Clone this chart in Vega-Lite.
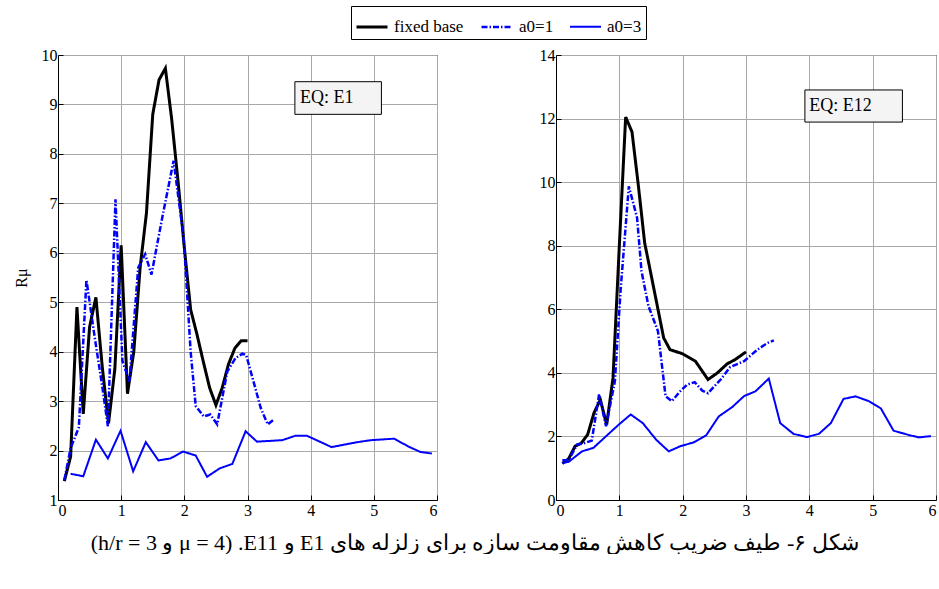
{
  "$schema": "https://vega.github.io/schema/vega-lite/v6.json",
  "background": "white",
  "padding": {"left": 12, "top": 5, "right": 0, "bottom": 0},
  "config": {
    "font": "Liberation Serif",
    "view": {"stroke": "black", "strokeWidth": 1},
    "axis": {
      "labelFont": "Liberation Serif", "labelFontSize": 16, "labelColor": "black",
      "titleFont": "Liberation Serif", "titleFontSize": 16, "titleColor": "black", "titleFontWeight": "normal",
      "domainColor": "black", "tickColor": "black", "tickSize": -5,
      "gridColor": "#a8a8a8", "gridWidth": 1, "gridOpacity": 1, "format": "d"
    },
    "axisX": {"labelPadding": 7},
    "axisY": {"labelPadding": 6},
    "legend": {
      "labelFont": "Liberation Serif", "labelFontSize": 17, "labelColor": "black",
      "strokeColor": "black", "padding": 4, "direction": "horizontal",
      "symbolType": "stroke", "symbolSize": 961, "columnPadding": 12, "labelOffset": 5
    },
    "title": {"font": "Liberation Serif", "fontSize": 22, "fontWeight": "normal", "color": "black"}
  },
  "title": {
    "text": "(h/r = 3 و μ = 4) ‫شکل ۶- طیف ضریب کاهش مقاومت سازه برای زلزله های E1 و E11.‬",
    "orient": "bottom", "anchor": "middle", "offset": 14, "font": "Liberation Serif"
  },
  "datasets": {
    "left": [
      {"s": "fixed base", "T": 0.1, "R": 1.38}, {"s": "fixed base", "T": 0.2, "R": 1.88},
      {"s": "fixed base", "T": 0.3, "R": 4.9}, {"s": "fixed base", "T": 0.4, "R": 2.74},
      {"s": "fixed base", "T": 0.5, "R": 4.5}, {"s": "fixed base", "T": 0.6, "R": 5.1},
      {"s": "fixed base", "T": 0.7, "R": 3.7}, {"s": "fixed base", "T": 0.8, "R": 2.55},
      {"s": "fixed base", "T": 0.9, "R": 3.65}, {"s": "fixed base", "T": 1.0, "R": 6.15},
      {"s": "fixed base", "T": 1.1, "R": 3.15}, {"s": "fixed base", "T": 1.2, "R": 4.0},
      {"s": "fixed base", "T": 1.3, "R": 5.7}, {"s": "fixed base", "T": 1.4, "R": 6.8},
      {"s": "fixed base", "T": 1.5, "R": 8.8}, {"s": "fixed base", "T": 1.6, "R": 9.5},
      {"s": "fixed base", "T": 1.7, "R": 9.73}, {"s": "fixed base", "T": 1.8, "R": 8.7},
      {"s": "fixed base", "T": 1.9, "R": 7.45}, {"s": "fixed base", "T": 2.0, "R": 6.1},
      {"s": "fixed base", "T": 2.1, "R": 4.85}, {"s": "fixed base", "T": 2.2, "R": 4.35},
      {"s": "fixed base", "T": 2.3, "R": 3.8}, {"s": "fixed base", "T": 2.4, "R": 3.27},
      {"s": "fixed base", "T": 2.5, "R": 2.92}, {"s": "fixed base", "T": 2.6, "R": 3.27},
      {"s": "fixed base", "T": 2.7, "R": 3.75}, {"s": "fixed base", "T": 2.8, "R": 4.07},
      {"s": "fixed base", "T": 2.9, "R": 4.22}, {"s": "fixed base", "T": 3.0, "R": 4.22},
      {"s": "a0=1", "T": 0.1, "R": 1.4}, {"s": "a0=1", "T": 0.2, "R": 2.05},
      {"s": "a0=1", "T": 0.33, "R": 2.47}, {"s": "a0=1", "T": 0.45, "R": 5.45},
      {"s": "a0=1", "T": 0.58, "R": 4.3}, {"s": "a0=1", "T": 0.7, "R": 3.3},
      {"s": "a0=1", "T": 0.79, "R": 2.49}, {"s": "a0=1", "T": 0.91, "R": 7.08},
      {"s": "a0=1", "T": 1.02, "R": 3.81}, {"s": "a0=1", "T": 1.13, "R": 3.4},
      {"s": "a0=1", "T": 1.27, "R": 5.7}, {"s": "a0=1", "T": 1.38, "R": 5.97},
      {"s": "a0=1", "T": 1.48, "R": 5.56}, {"s": "a0=1", "T": 1.65, "R": 6.71},
      {"s": "a0=1", "T": 1.83, "R": 7.86}, {"s": "a0=1", "T": 1.99, "R": 6.3},
      {"s": "a0=1", "T": 2.1, "R": 4.0}, {"s": "a0=1", "T": 2.18, "R": 2.9},
      {"s": "a0=1", "T": 2.31, "R": 2.69}, {"s": "a0=1", "T": 2.41, "R": 2.73},
      {"s": "a0=1", "T": 2.52, "R": 2.53}, {"s": "a0=1", "T": 2.68, "R": 3.6},
      {"s": "a0=1", "T": 2.81, "R": 3.87}, {"s": "a0=1", "T": 2.92, "R": 3.96},
      {"s": "a0=1", "T": 2.98, "R": 3.93}, {"s": "a0=1", "T": 3.21, "R": 2.86},
      {"s": "a0=1", "T": 3.32, "R": 2.53}, {"s": "a0=1", "T": 3.42, "R": 2.63},
      {"s": "a0=3", "T": 0.2, "R": 1.53}, {"s": "a0=3", "T": 0.4, "R": 1.48},
      {"s": "a0=3", "T": 0.6, "R": 2.22}, {"s": "a0=3", "T": 0.79, "R": 1.84},
      {"s": "a0=3", "T": 0.99, "R": 2.4}, {"s": "a0=3", "T": 1.19, "R": 1.58},
      {"s": "a0=3", "T": 1.39, "R": 2.17}, {"s": "a0=3", "T": 1.59, "R": 1.8},
      {"s": "a0=3", "T": 1.78, "R": 1.84}, {"s": "a0=3", "T": 1.98, "R": 1.98},
      {"s": "a0=3", "T": 2.18, "R": 1.9}, {"s": "a0=3", "T": 2.36, "R": 1.47},
      {"s": "a0=3", "T": 2.56, "R": 1.64}, {"s": "a0=3", "T": 2.76, "R": 1.73},
      {"s": "a0=3", "T": 2.97, "R": 2.39}, {"s": "a0=3", "T": 3.15, "R": 2.18},
      {"s": "a0=3", "T": 3.55, "R": 2.21}, {"s": "a0=3", "T": 3.76, "R": 2.3},
      {"s": "a0=3", "T": 3.94, "R": 2.3}, {"s": "a0=3", "T": 4.33, "R": 2.07},
      {"s": "a0=3", "T": 4.74, "R": 2.17}, {"s": "a0=3", "T": 4.95, "R": 2.21},
      {"s": "a0=3", "T": 5.32, "R": 2.24}, {"s": "a0=3", "T": 5.55, "R": 2.08},
      {"s": "a0=3", "T": 5.74, "R": 1.97}, {"s": "a0=3", "T": 5.92, "R": 1.94}
    ],
    "right": [
      {"s": "fixed base", "T": 0.1, "R": 1.15}, {"s": "fixed base", "T": 0.2, "R": 1.3},
      {"s": "fixed base", "T": 0.3, "R": 1.69}, {"s": "fixed base", "T": 0.4, "R": 1.79},
      {"s": "fixed base", "T": 0.5, "R": 2.06}, {"s": "fixed base", "T": 0.6, "R": 2.74},
      {"s": "fixed base", "T": 0.7, "R": 3.16}, {"s": "fixed base", "T": 0.8, "R": 2.37},
      {"s": "fixed base", "T": 0.9, "R": 3.84}, {"s": "fixed base", "T": 1.0, "R": 8.0},
      {"s": "fixed base", "T": 1.1, "R": 12.05}, {"s": "fixed base", "T": 1.2, "R": 11.58},
      {"s": "fixed base", "T": 1.3, "R": 9.9}, {"s": "fixed base", "T": 1.4, "R": 8.09},
      {"s": "fixed base", "T": 1.5, "R": 7.1}, {"s": "fixed base", "T": 1.6, "R": 6.1},
      {"s": "fixed base", "T": 1.7, "R": 5.1}, {"s": "fixed base", "T": 1.8, "R": 4.73},
      {"s": "fixed base", "T": 2.0, "R": 4.6}, {"s": "fixed base", "T": 2.2, "R": 4.37},
      {"s": "fixed base", "T": 2.4, "R": 3.79}, {"s": "fixed base", "T": 2.55, "R": 4.0},
      {"s": "fixed base", "T": 2.7, "R": 4.28}, {"s": "fixed base", "T": 2.83, "R": 4.42},
      {"s": "fixed base", "T": 3.0, "R": 4.66},
      {"s": "a0=1", "T": 0.1, "R": 1.25}, {"s": "a0=1", "T": 0.2, "R": 1.25},
      {"s": "a0=1", "T": 0.33, "R": 1.74}, {"s": "a0=1", "T": 0.43, "R": 1.78},
      {"s": "a0=1", "T": 0.565, "R": 1.87}, {"s": "a0=1", "T": 0.68, "R": 3.32},
      {"s": "a0=1", "T": 0.79, "R": 2.32}, {"s": "a0=1", "T": 0.93, "R": 3.74},
      {"s": "a0=1", "T": 1.02, "R": 6.6}, {"s": "a0=1", "T": 1.15, "R": 9.87},
      {"s": "a0=1", "T": 1.28, "R": 8.88}, {"s": "a0=1", "T": 1.35, "R": 7.2},
      {"s": "a0=1", "T": 1.46, "R": 6.1}, {"s": "a0=1", "T": 1.61, "R": 5.31},
      {"s": "a0=1", "T": 1.73, "R": 3.26}, {"s": "a0=1", "T": 1.83, "R": 3.11},
      {"s": "a0=1", "T": 1.96, "R": 3.42}, {"s": "a0=1", "T": 2.07, "R": 3.63},
      {"s": "a0=1", "T": 2.19, "R": 3.71}, {"s": "a0=1", "T": 2.31, "R": 3.44},
      {"s": "a0=1", "T": 2.4, "R": 3.36}, {"s": "a0=1", "T": 2.6, "R": 3.79},
      {"s": "a0=1", "T": 2.75, "R": 4.18}, {"s": "a0=1", "T": 2.97, "R": 4.37},
      {"s": "a0=1", "T": 3.18, "R": 4.73}, {"s": "a0=1", "T": 3.34, "R": 4.94},
      {"s": "a0=1", "T": 3.44, "R": 5.02},
      {"s": "a0=3", "T": 0.1, "R": 1.16}, {"s": "a0=3", "T": 0.2, "R": 1.2},
      {"s": "a0=3", "T": 0.41, "R": 1.53}, {"s": "a0=3", "T": 0.59, "R": 1.64},
      {"s": "a0=3", "T": 0.99, "R": 2.37}, {"s": "a0=3", "T": 1.18, "R": 2.69},
      {"s": "a0=3", "T": 1.37, "R": 2.42}, {"s": "a0=3", "T": 1.58, "R": 1.9},
      {"s": "a0=3", "T": 1.78, "R": 1.53}, {"s": "a0=3", "T": 1.96, "R": 1.69},
      {"s": "a0=3", "T": 2.17, "R": 1.81}, {"s": "a0=3", "T": 2.37, "R": 2.03},
      {"s": "a0=3", "T": 2.57, "R": 2.63}, {"s": "a0=3", "T": 2.78, "R": 2.92},
      {"s": "a0=3", "T": 2.97, "R": 3.27}, {"s": "a0=3", "T": 3.15, "R": 3.42},
      {"s": "a0=3", "T": 3.36, "R": 3.82}, {"s": "a0=3", "T": 3.54, "R": 2.42},
      {"s": "a0=3", "T": 3.75, "R": 2.08}, {"s": "a0=3", "T": 3.96, "R": 1.98},
      {"s": "a0=3", "T": 4.15, "R": 2.08}, {"s": "a0=3", "T": 4.34, "R": 2.42},
      {"s": "a0=3", "T": 4.54, "R": 3.18}, {"s": "a0=3", "T": 4.73, "R": 3.26},
      {"s": "a0=3", "T": 4.94, "R": 3.11}, {"s": "a0=3", "T": 5.13, "R": 2.88},
      {"s": "a0=3", "T": 5.33, "R": 2.18}, {"s": "a0=3", "T": 5.58, "R": 2.04},
      {"s": "a0=3", "T": 5.73, "R": 1.97}, {"s": "a0=3", "T": 5.92, "R": 2.01}
    ],
    "boxL": [{"x": 3.75, "x2": 5.12, "y": 8.8, "y2": 9.46, "tx": 3.83, "ty": 9.13, "label": "EQ: E1"}],
    "boxR": [{"x": 3.93, "x2": 5.47, "y": 11.89, "y2": 12.9, "tx": 4.0, "ty": 12.4, "label": "EQ: E12"}]
  },
  "spacing": 119,
  "bounds": "flush",
  "hconcat": [
    {
      "width": 379, "height": 445,
      "layer": [
        {
          "data": {"name": "left"},
          "mark": {"type": "line", "clip": true},
          "encoding": {
            "x": {"field": "T", "type": "quantitative", "scale": {"domain": [0, 6], "nice": false},
                  "axis": {"values": [0, 1, 2, 3, 4, 5, 6], "title": null, "grid": true, "labelFont": "Liberation Serif"}},
            "y": {"field": "R", "type": "quantitative", "scale": {"domain": [1, 10], "nice": false, "zero": false},
                  "axis": {"values": [1, 2, 3, 4, 5, 6, 7, 8, 9, 10], "title": "Rμ", "titlePadding": 12, "grid": true, "labelFont": "Liberation Serif", "titleFont": "Liberation Serif"}},
            "color": {"field": "s", "type": "nominal",
                      "scale": {"domain": ["fixed base", "a0=1", "a0=3"], "range": ["black", "#0000ff", "#0000ff"]},
                      "legend": {"title": null, "orient": "none", "legendX": 293, "legendY": -49}},
            "strokeDash": {"field": "s", "type": "nominal",
                      "scale": {"domain": ["fixed base", "a0=1", "a0=3"], "range": [[1, 0], [6, 2, 1.5, 2], [1, 0]]},
                      "legend": {"title": null, "orient": "none", "legendX": 293, "legendY": -49}},
            "strokeWidth": {"field": "s", "type": "nominal",
                      "scale": {"domain": ["fixed base", "a0=1", "a0=3"], "range": [3, 2, 2]},
                      "legend": {"title": null, "orient": "none", "legendX": 293, "legendY": -49}}
          }
        },
        {
          "data": {"name": "boxL"},
          "mark": {"type": "rect", "fill": "#f4f4f4", "stroke": "black", "strokeWidth": 1},
          "encoding": {
            "x": {"field": "x", "type": "quantitative"}, "x2": {"field": "x2"},
            "y": {"field": "y", "type": "quantitative"}, "y2": {"field": "y2"}
          }
        },
        {
          "data": {"name": "boxL"},
          "mark": {"type": "text", "align": "left", "baseline": "middle", "font": "Liberation Serif", "fontSize": 18, "color": "black"},
          "encoding": {
            "x": {"field": "tx", "type": "quantitative"},
            "y": {"field": "ty", "type": "quantitative"},
            "text": {"field": "label"}
          }
        }
      ]
    },
    {
      "width": 380, "height": 445,
      "layer": [
        {
          "data": {"name": "right"},
          "mark": {"type": "line", "clip": true},
          "encoding": {
            "x": {"field": "T", "type": "quantitative", "scale": {"domain": [0, 6], "nice": false},
                  "axis": {"values": [0, 1, 2, 3, 4, 5, 6], "title": null, "grid": true, "labelFont": "Liberation Serif"}},
            "y": {"field": "R", "type": "quantitative", "scale": {"domain": [0, 14], "nice": false},
                  "axis": {"values": [0, 2, 4, 6, 8, 10, 12, 14], "title": null, "grid": true, "labelFont": "Liberation Serif"}},
            "color": {"field": "s", "type": "nominal",
                      "scale": {"domain": ["fixed base", "a0=1", "a0=3"], "range": ["black", "#0000ff", "#0000ff"]},
                      "legend": {"title": null, "orient": "none", "legendX": 293, "legendY": -49}},
            "strokeDash": {"field": "s", "type": "nominal",
                      "scale": {"domain": ["fixed base", "a0=1", "a0=3"], "range": [[1, 0], [6, 2, 1.5, 2], [1, 0]]},
                      "legend": {"title": null, "orient": "none", "legendX": 293, "legendY": -49}},
            "strokeWidth": {"field": "s", "type": "nominal",
                      "scale": {"domain": ["fixed base", "a0=1", "a0=3"], "range": [3, 2, 2]},
                      "legend": {"title": null, "orient": "none", "legendX": 293, "legendY": -49}}
          }
        },
        {
          "data": {"name": "boxR"},
          "mark": {"type": "rect", "fill": "#f4f4f4", "stroke": "black", "strokeWidth": 1},
          "encoding": {
            "x": {"field": "x", "type": "quantitative"}, "x2": {"field": "x2"},
            "y": {"field": "y", "type": "quantitative"}, "y2": {"field": "y2"}
          }
        },
        {
          "data": {"name": "boxR"},
          "mark": {"type": "text", "align": "left", "baseline": "middle", "font": "Liberation Serif", "fontSize": 18, "color": "black"},
          "encoding": {
            "x": {"field": "tx", "type": "quantitative"},
            "y": {"field": "ty", "type": "quantitative"},
            "text": {"field": "label"}
          }
        }
      ]
    }
  ]
}
